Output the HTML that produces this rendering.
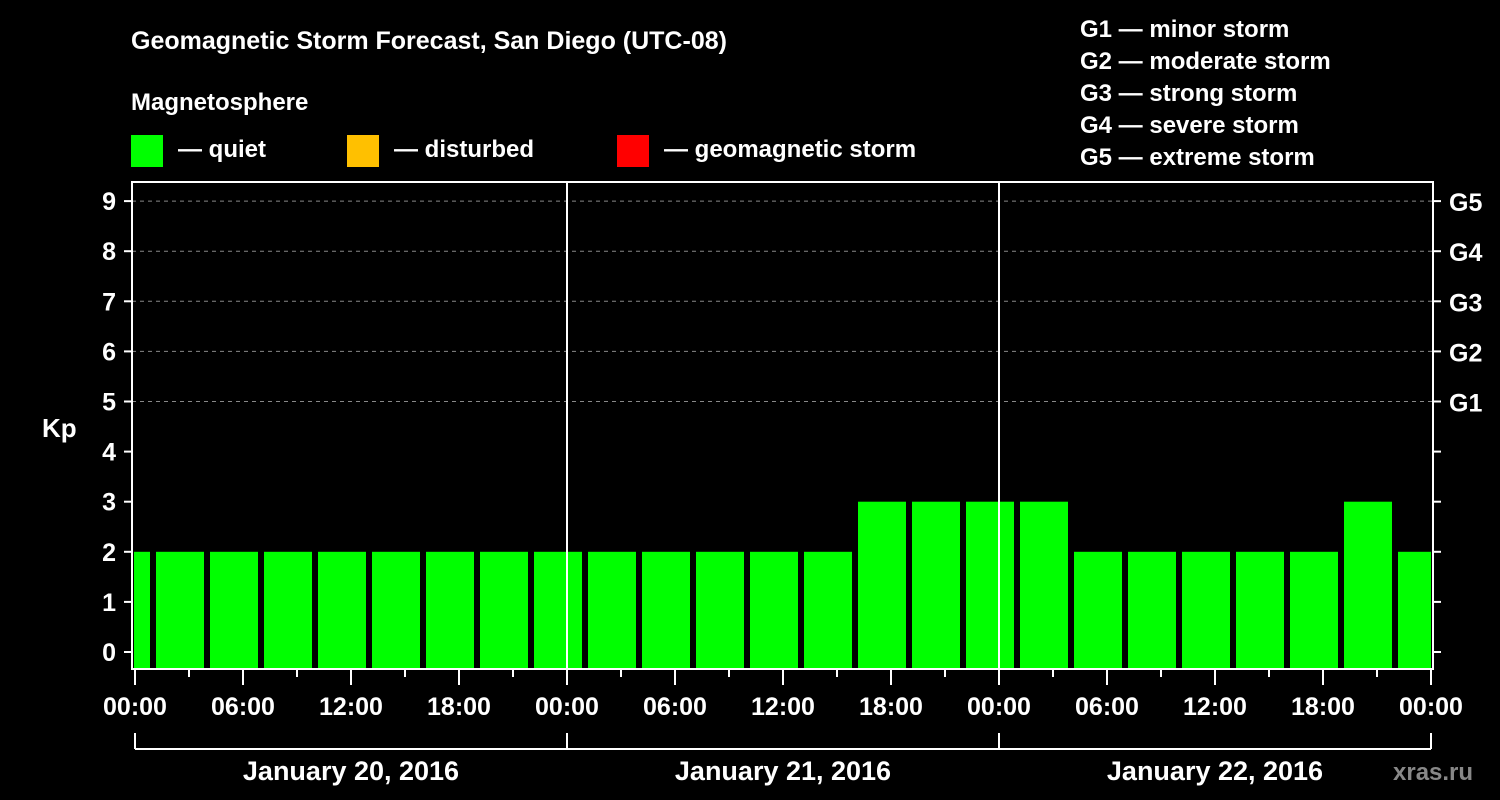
<!DOCTYPE html>
<html><head><meta charset="utf-8"><style>
body{margin:0;background:#000;}
svg{display:block;font-family:"Liberation Sans",Arial,sans-serif;font-weight:bold;}
</style></head><body>
<svg id="chart" width="1500" height="800" viewBox="0 0 1500 800">
<rect width="1500" height="800" fill="#000"/>
<text x="131" y="49" fill="#fff" font-size="25">Geomagnetic Storm Forecast, San Diego (UTC-08)</text>
<text x="131" y="110" fill="#fff" font-size="24">Magnetosphere</text>
<g><rect x="131" y="135" width="32" height="32" fill="#00ff00"/><text x="178" y="157" fill="#fff" font-size="24">— quiet</text></g>
<g><rect x="347" y="135" width="32" height="32" fill="#ffc000"/><text x="394" y="157" fill="#fff" font-size="24">— disturbed</text></g>
<g><rect x="617" y="135" width="32" height="32" fill="#ff0000"/><text x="664" y="157" fill="#fff" font-size="24">— geomagnetic storm</text></g>
<g fill="#fff" font-size="24">
<text x="1080" y="37">G1 — minor storm</text><text x="1080" y="69">G2 — moderate storm</text><text x="1080" y="101">G3 — strong storm</text><text x="1080" y="133">G4 — severe storm</text><text x="1080" y="165">G5 — extreme storm</text>
</g>
<text x="42" y="437" fill="#fff" font-size="26">Kp</text>
<text x="1393" y="780" fill="#888" font-size="24">xras.ru</text>
<g id="grid"></g><g id="bars"></g><g id="axes"></g>
</svg>
<script>
const kpValues=[2,2,2,2,2,2,2,2,2,2,2,2,2,2,3,3,3,3,2,2,2,2,2,3,2];
const binStartHours=[-2,1,4,7,10,13,16,19,22,25,28,31,34,37,40,43,46,49,52,55,58,61,64,67,70];
const yTicks=[0,1,2,3,4,5,6,7,8,9];
const gLabels=["G1","G2","G3","G4","G5"];
const xTickLabels=["00:00","06:00","12:00","18:00","00:00","06:00","12:00","18:00","00:00","06:00","12:00","18:00","00:00"];
const dayLabels=["January 20, 2016","January 21, 2016","January 22, 2016"];
const NS="http://www.w3.org/2000/svg";
const L=132,R=1433,T=182,B=669,X0=135,X1=1431;
const x=h=>X0+(X1-X0)*h/72;
const y=k=>652-50.1*k;
function el(t,a,p){const e=document.createElementNS(NS,t);for(const k in a)e.setAttribute(k,a[k]);document.getElementById(p).appendChild(e);return e;}
yTicks.forEach(k=>{if(k>=5){const g=el('line',{x1:L,x2:R,y1:y(k),y2:y(k),stroke:'#888','stroke-dasharray':'4,4'},'grid');

}});
const cp=el('clipPath',{id:'cp'},'bars');el('rect',{x:L+2,y:T,width:R-L-4,height:B-T-1},'cp');
kpValues.forEach((v,i)=>{const h=binStartHours[i];const c=v>=5?'#ff0000':(v>=4?'#ffc000':'#00ff00');
const b=el('rect',{x:x(h)+3,y:y(v),width:x(h+3)-x(h)-6,height:B-1-y(v),fill:c,'clip-path':'url(#cp)'},'bars');

});
[24,48].forEach(h=>{const d=el('line',{x1:x(h),x2:x(h),y1:T,y2:B,stroke:'#fff','stroke-width':2},'axes');

});
const fr=el('rect',{x:L,y:T,width:R-L,height:B-T,fill:'none',stroke:'#fff','stroke-width':2},'axes');


yTicks.forEach(k=>{el('line',{x1:L-8,x2:L,y1:y(k),y2:y(k),stroke:'#fff','stroke-width':2},'axes');
el('line',{x1:R,x2:R+8,y1:y(k),y2:y(k),stroke:'#fff','stroke-width':2},'axes');
const t=el('text',{x:L-16,y:y(k)+9,fill:'#fff','font-size':25,'text-anchor':'end'},'axes');t.textContent=k;


if(k>=5){const g=el('text',{x:R+16,y:y(k)+10,fill:'#fff','font-size':25},'axes');g.textContent=gLabels[k-5];

}});
for(let h=0;h<=72;h+=3){el('line',{x1:x(h),x2:x(h),y1:B,y2:B+(h%6?8:16),stroke:'#fff','stroke-width':2},'axes');}
xTickLabels.forEach((s,i)=>{const t=el('text',{x:x(i*6),y:715,fill:'#fff','font-size':25,'text-anchor':'middle'},'axes');t.textContent=s;

});
el('line',{x1:x(0),x2:x(72),y1:749,y2:749,stroke:'#fff','stroke-width':2},'axes');
[0,24,48,72].forEach(h=>el('line',{x1:x(h),x2:x(h),y1:733,y2:749,stroke:'#fff','stroke-width':2},'axes'));
dayLabels.forEach((s,i)=>{const t=el('text',{x:x(i*24+12),y:780,fill:'#fff','font-size':27,'text-anchor':'middle'},'axes');t.textContent=s;

});
</script>
</body></html>
